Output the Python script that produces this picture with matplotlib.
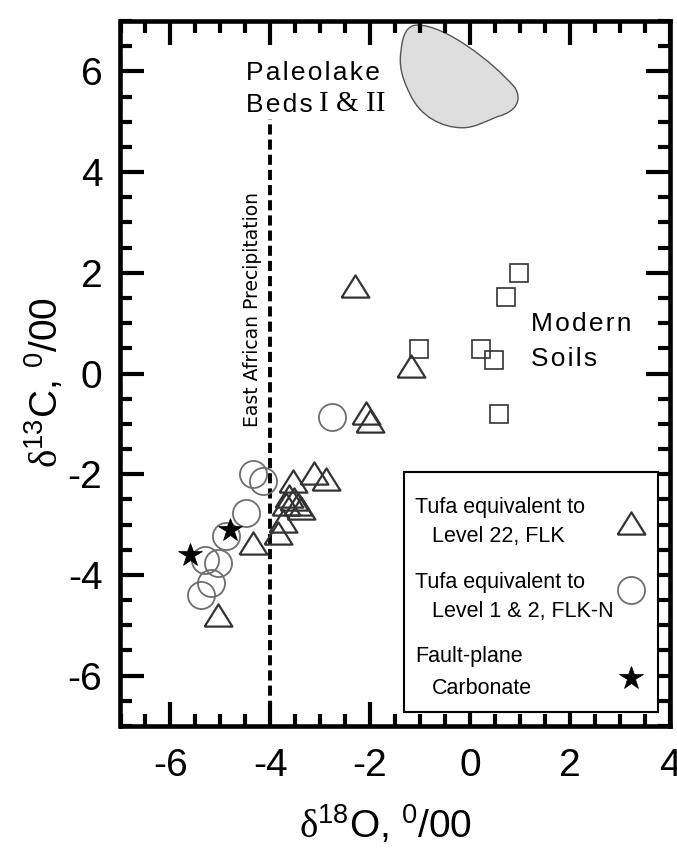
import matplotlib
matplotlib.use("Agg")
import matplotlib.pyplot as plt
from matplotlib import font_manager
from matplotlib.path import Path
from matplotlib.patches import PathPatch, Rectangle
from matplotlib.ticker import MultipleLocator

names = {f.name for f in font_manager.fontManager.ttflist}
SANS = "Liberation Sans Narrow" if "Liberation Sans Narrow" in names else "Liberation Sans"
plt.rcParams["font.family"] = [SANS, "DejaVu Sans"]
plt.rcParams["mathtext.fontset"] = "custom"
plt.rcParams["mathtext.rm"] = "Liberation Serif"
plt.rcParams["mathtext.sf"] = SANS
plt.rcParams["axes.unicode_minus"] = False

# Tufa equivalent to Level 22, FLK (triangles)
tri_x = [-2.30, -1.17, -2.08, -2.01, -3.12, -2.89, -3.55, -3.62, -3.52, -3.45,
         -3.69, -3.39, -3.75, -3.85, -4.35, -5.05]
tri_y = [1.73, 0.14, -0.78, -0.95, -1.97, -2.10, -2.13, -2.43, -2.50, -2.60,
         -2.60, -2.67, -2.93, -3.17, -3.37, -4.80]
# Tufa equivalent to Level 1 & 2, FLK-N (circles)
circ_x = [-2.76, -4.35, -4.15, -4.48, -4.88, -5.31, -5.05, -5.18, -5.38]
circ_y = [-0.87, -2.00, -2.13, -2.77, -3.23, -3.70, -3.77, -4.17, -4.40]
# Fault-plane carbonate (stars)
star_x = [-4.81, -5.61]
star_y = [-3.10, -3.60]
# Modern soils (squares)
soil_x = [0.98, 0.73, -1.01, 0.23, 0.49, 0.59]
soil_y = [2.00, 1.51, 0.49, 0.49, 0.27, -0.81]

# East African precipitation line
eap_x = -4.0
eap_top = 5.05

# Paleolake field outline (bezier vertices)
lake_verts = [(-1.05, 6.92),
              (-0.50, 6.92), (0.45, 6.20), (0.90, 5.68),
              (1.05, 5.45), (0.95, 5.20), (0.55, 5.10),
              (0.30, 5.00), (0.10, 4.88), (-0.15, 4.88),
              (-0.55, 4.88), (-1.00, 5.10), (-1.20, 5.55),
              (-1.38, 5.90), (-1.42, 6.15), (-1.38, 6.40),
              (-1.35, 6.75), (-1.25, 6.92), (-1.05, 6.92),
              (-1.05, 6.92)]
lake_codes = [Path.MOVETO] + [Path.CURVE4] * 18 + [Path.CLOSEPOLY]

legend_lines = [("Tufa equivalent to", "Level 22, FLK"),
                ("Tufa equivalent to", "Level 1 & 2, FLK-N"),
                ("Fault-plane", "Carbonate")]


def spaced(s):
    return "\u200a".join(s)


fig = plt.figure(figsize=(6.77, 8.48), dpi=100)
ax = fig.add_axes([120.5 / 677, 1 - 726 / 848, 549 / 677, 705 / 848])
ax.set_xlim(-7, 4)
ax.set_ylim(-7, 7)

ax.add_patch(PathPatch(Path(lake_verts, lake_codes), facecolor="#dedede",
                       edgecolor="#555555", lw=1.0, zorder=1))

ax.vlines(eap_x, -7, eap_top, colors="black", linewidth=2.8,
          linestyles=(0, (2.6, 1.3)), zorder=2)

tri_marker = [(-1, -0.8), (1, -0.8), (0, 0.8), (-1, -0.8)]
tri_style = dict(ls="none", marker=tri_marker, ms=20, mfc="none",
                 mec="#333333", mew=1.6)
circ_style = dict(ls="none", marker="o", ms=19.5, mfc="none", mec="#6e6e6e",
                  mew=1.3)
star_style = dict(ls="none", marker="*", ms=17.5, mfc="black", mec="black",
                  mew=0.5)

ax.plot(tri_x, tri_y, zorder=3, **tri_style)
ax.plot(circ_x, circ_y, zorder=3, **circ_style)
ax.plot(soil_x, soil_y, ls="none", marker="s", ms=13.5, mfc="none",
        mec="#333333", mew=1.2, zorder=3)
ax.plot(star_x, star_y, zorder=4, **star_style)

# annotations
ax.text(-4.36, 1.27, "East African Precipitation", rotation=90, ha="center",
        va="center", fontsize=13.5, family="DejaVu Sans")
ax.text(-4.49, 5.82, spaced("Paleolake"), fontsize=19, va="baseline")
beds = ax.text(-4.49, 5.19, spaced("Beds"), fontsize=19, va="baseline")
ax.annotate("I & II", xy=(1, 0), xycoords=beds, xytext=(5, 0),
            textcoords="offset points", va="bottom", fontsize=21,
            family="Liberation Serif")
ax.text(1.22, 0.84, spaced("Modern"), fontsize=19, va="baseline")
ax.text(1.22, 0.14, spaced("Soils"), fontsize=19, va="baseline")

# ticks and spines
ax.xaxis.set_major_locator(MultipleLocator(2))
ax.xaxis.set_minor_locator(MultipleLocator(0.5))
ax.yaxis.set_major_locator(MultipleLocator(2))
ax.yaxis.set_minor_locator(MultipleLocator(0.5))
ax.tick_params(which="both", direction="in", top=True, right=True, width=3,
               color="black")
ax.tick_params(which="major", length=17)
ax.tick_params(which="minor", length=8.6)
ax.tick_params(axis="x", which="major", labelsize=28, pad=16)
ax.tick_params(axis="y", which="major", labelsize=28, pad=13)
for sp in ax.spines.values():
    sp.set_linewidth(3.3)

ax.set_xlabel(r"$\mathrm{\delta}^{\mathsf{18}}$O, $^{\mathsf{0}}$/00", fontsize=28)
ax.set_ylabel(r"$\mathrm{\delta}^{\mathsf{13}}$C, $^{\mathsf{0}}$/00", fontsize=28)
ax.xaxis.set_label_coords(0.483, -0.110)
ax.yaxis.set_label_coords(-0.10, 0.487)

# legend box drawn over the ticks, text left aligned, markers on the right
ax.add_patch(Rectangle((0.516, 0.0199), 0.463, 0.340, transform=ax.transAxes,
                       facecolor="white", edgecolor="black", lw=1.5, zorder=5))
rows_y = [(0.3021, 0.2614), (0.1957, 0.1550), (0.0901, 0.0454)]
marks_y = [0.2875, 0.1929, 0.0677]
for (l1, l2), (y1, y2), my, st in zip(legend_lines, rows_y, marks_y,
                                      [tri_style, circ_style, star_style]):
    ax.text(0.5364, y1, l1, transform=ax.transAxes, fontsize=15.5,
            va="baseline", zorder=6)
    ax.text(0.5669, y2, l2, transform=ax.transAxes, fontsize=15.5,
            va="baseline", zorder=6)
    ax.plot([0.929], [my], transform=ax.transAxes, clip_on=False, zorder=6,
            **st)

fig.savefig("out.png", dpi=100)
